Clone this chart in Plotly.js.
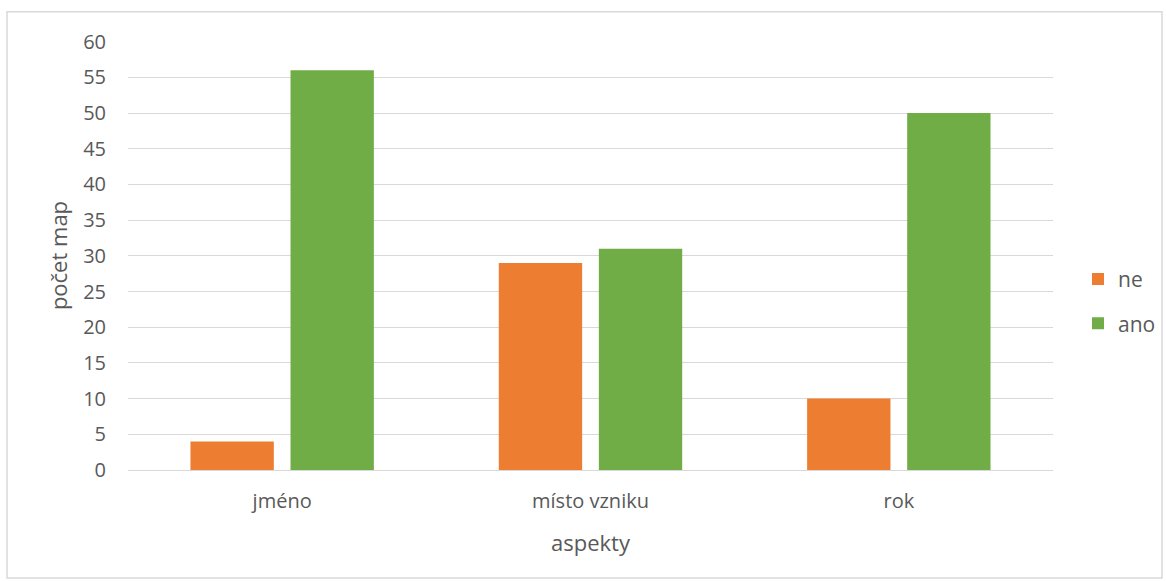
<!DOCTYPE html>
<html>
<head>
<meta charset="utf-8">
<script src="https://cdn.plot.ly/plotly-3.0.1.min.js"></script>
<style>
html,body{margin:0;padding:0;background:#fff;}
#chart{width:1166px;height:581px;}
</style>
</head>
<body>
<div id="chart"></div>
<script>
const categories = ["jméno", "místo vzniku", "rok"];
const seriesNames = ["ne", "ano"];
const neValues = [4, 29, 10];
const anoValues = [56, 31, 50];
const colors = ["#ED7D31", "#70AD47"];
const yMax = 60.1;

const W = 1166, H = 581;
const mL = 128, mR = 113, mB = 111;
const ph0 = 428; // pixels for 0..60
const ph = ph0 * yMax / 60;
const mT = H - mB - ph;
const pw = W - mL - mR;
const px = v => (v - mL) / pw;
const py = v => (H - mB - v) / ph;

const font = "Open Sans, Noto Sans, DejaVu Sans, sans-serif";

const traces = [neValues, anoValues].map((vals, i) => ({
  type: "bar",
  name: seriesNames[i],
  x: categories,
  y: vals,
  marker: {color: colors[i]},
  legendgroup: seriesNames[i],
  hoverinfo: "x+y+name"
}));

const layout = {
  width: W, height: H,
  margin: {l: mL, r: mR, t: mT, b: mB, pad: 0, autoexpand: false},
  paper_bgcolor: "#fff",
  plot_bgcolor: "#fff",
  barmode: "group",
  bargap: 0.351,
  bargroupgap: 0.167,
  font: {family: font, color: "#595959", size: 20},
  xaxis: {
    type: "category",
    showgrid: false,
    showline: false,
    ticks: "",
    tickfont: {size: 20, color: "#595959"},
    ticklabelstandoff: 17,
    title: {text: "aspekty", font: {size: 22, color: "#595959"}, standoff: 22}
  },
  yaxis: {
    range: [0, yMax],
    dtick: 5,
    tick0: 0,
    showgrid: true,
    gridcolor: "#D9D9D9",
    gridwidth: 1,
    zeroline: true,
    zerolinecolor: "#D9D9D9",
    zerolinewidth: 1,
    showline: false,
    ticks: "",
    ticklabelstandoff: 21,
    tickfont: {size: 20, color: "#595959"},
    title: {text: "počet map", font: {size: 22, color: "#595959"}, standoff: 9}
  },
  legend: {
    x: px(1078), y: py(259),
    xanchor: "left", yanchor: "top",
    traceorder: "grouped",
    tracegroupgap: 14,
    font: {size: 21, color: "#595959"},
    itemwidth: 30,
    bgcolor: "rgba(0,0,0,0)"
  },
  showlegend: true,
  shapes: [{
    type: "rect", xref: "paper", yref: "paper",
    x0: px(7), x1: px(1162), y0: py(578), y1: py(12),
    line: {color: "#D9D9D9", width: 1.5},
    fillcolor: "rgba(0,0,0,0)",
    layer: "below"
  }]
};

Plotly.newPlot("chart", traces, layout, {displayModeBar: false, staticPlot: true});
</script>
</body>
</html>
